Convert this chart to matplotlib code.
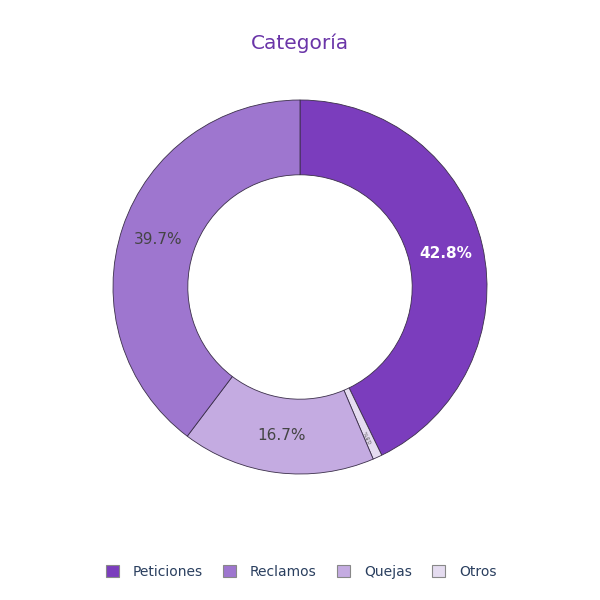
import numpy as np
import matplotlib.pyplot as plt
from matplotlib.patches import Patch

plt.rcParams['font.family'] = ['DejaVu Sans']

# datos
categorias = ["Peticiones", "Reclamos", "Quejas", "Otros"]
valores = [42.8, 39.7, 16.7, 0.8]
colores = ["#7b3dbd", "#9e76cf", "#c4abe1", "#e5dcf0"]
orden = [0, 3, 2, 1]  # orden de dibujo en sentido horario

fig = plt.figure(figsize=(6, 6), dpi=100)
r_px = 187
cx, cy = 300 / 600, 1 - 287 / 600
w = 2 * r_px / 600
ax = fig.add_axes([cx - w / 2, cy - w / 2, w, w])

vals = [valores[i] for i in orden]
cols = [colores[i] for i in orden]

wedges, texts, autotexts = ax.pie(
    vals, colors=cols, startangle=90, counterclock=False,
    autopct="%1.1f%%", pctdistance=0.8, radius=1,
    wedgeprops=dict(width=0.4, edgecolor="#3b2f4a", linewidth=0.6),
    textprops=dict(fontsize=11, color="#444444"),
)

for t, i, wd in zip(autotexts, orden, wedges):
    if categorias[i] == "Peticiones":
        t.set_color("white")
        t.set_fontweight("semibold")
    if categorias[i] == "Otros":
        mid = np.radians((wd.theta1 + wd.theta2) / 2)
        t.set_fontsize(4)
        t.set_rotation(np.degrees(mid) + 180)
        t.set_color("#555555")
        t.set_position((0.88 * np.cos(mid), 0.88 * np.sin(mid)))

ax.set_xlim(-1, 1)
ax.set_ylim(-1, 1)
ax.set_aspect("equal")
ax.axis("off")

fig.text(0.5, 1 - 43 / 600, "Categoría", ha="center", va="center",
         fontsize=14.5, color="#6a35a8")

handles = [Patch(facecolor=colores[i], edgecolor="#888888", linewidth=0.8)
           for i in range(len(categorias))]
fig.legend(handles, categorias, loc="center", bbox_to_anchor=(0.502, 1 - 572 / 600),
           ncol=4, frameon=False, fontsize=10, handlelength=0.9, handleheight=0.9,
           columnspacing=1.5, handletextpad=1.0, labelcolor="#2a3f5f")

fig.savefig("out.png", dpi=100, facecolor="white")
